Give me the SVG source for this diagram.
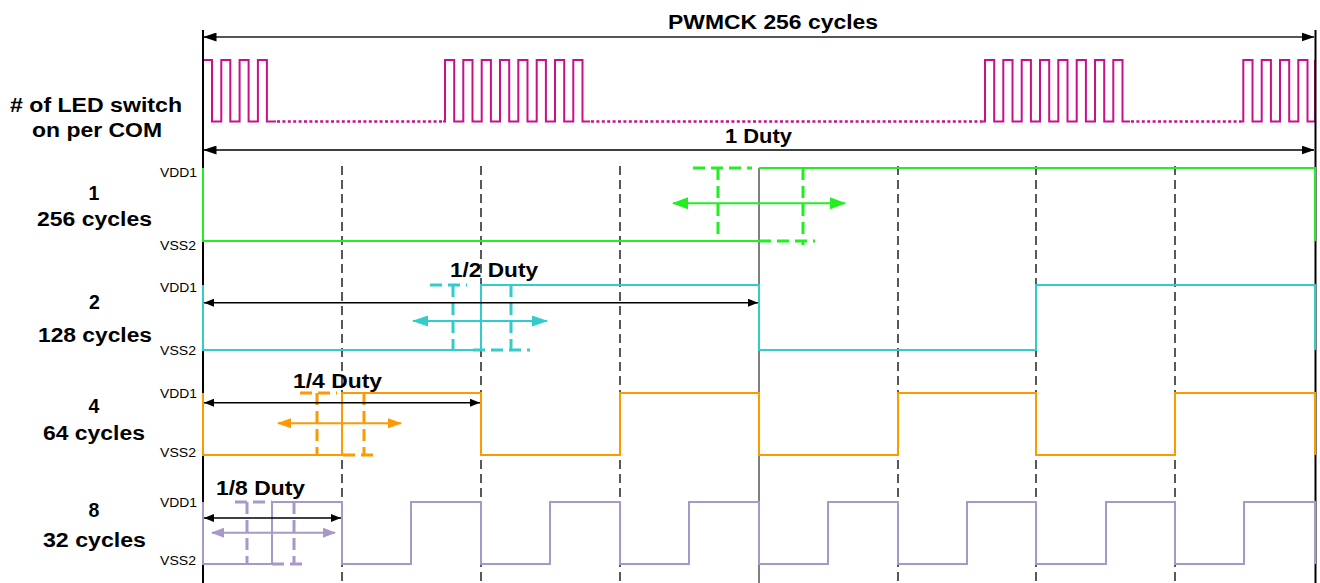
<svg xmlns="http://www.w3.org/2000/svg" width="1320" height="583" viewBox="0 0 1320 583">
<style>
.lbl{font-family:"Liberation Sans",Arial,sans-serif;font-weight:bold;font-size:19.5px;fill:#000}
.lv{font-family:"Liberation Sans",Arial,sans-serif;font-size:13px;fill:#000}
.axis{stroke:#000;stroke-width:2;fill:none}
.grid{stroke:#000;stroke-width:1.3;stroke-dasharray:9,5;fill:none}
.sig{fill:none;stroke-width:2}
.pink{stroke:#C8108C}
.green{stroke:#22EE22}
.cyan{stroke:#33CCCC}
.orange{stroke:#FF9900}
.purple{stroke:#A898C8}
.mk{fill:none;stroke-width:3;stroke-dasharray:12,6}
.dim{stroke:#000;stroke-width:1.5;fill:none}
</style>
<defs>
<marker id="ahBig" markerUnits="userSpaceOnUse" markerWidth="13" markerHeight="9" refX="12.5" refY="4.5" orient="auto-start-reverse"><path d="M0,0 L13,4.5 L0,9 Z" fill="#000"/></marker>
<marker id="ahSm" markerUnits="userSpaceOnUse" markerWidth="10" markerHeight="8" refX="10" refY="4" orient="auto-start-reverse"><path d="M0,0 L10,4 L0,8 Z" fill="#000"/></marker>
<marker id="ahG" markerUnits="userSpaceOnUse" markerWidth="16" markerHeight="12" refX="15" refY="6" orient="auto-start-reverse"><path d="M0,0 L16,6 L0,12 Z" fill="#22EE22"/></marker>
<marker id="ahC" markerUnits="userSpaceOnUse" markerWidth="16" markerHeight="11" refX="15" refY="5.5" orient="auto-start-reverse"><path d="M0,0 L16,5.5 L0,11 Z" fill="#33CCCC"/></marker>
<marker id="ahO" markerUnits="userSpaceOnUse" markerWidth="14" markerHeight="10" refX="13" refY="5" orient="auto-start-reverse"><path d="M0,0 L14,5 L0,10 Z" fill="#FF9900"/></marker>
<marker id="ahP" markerUnits="userSpaceOnUse" markerWidth="13" markerHeight="10" refX="12" refY="5" orient="auto-start-reverse"><path d="M0,0 L13,5 L0,10 Z" fill="#A898C8"/></marker>
</defs>

<g id="labels">
<text class="lbl" x="10" y="112" textLength="172" lengthAdjust="spacingAndGlyphs"># of LED switch</text>
<text class="lbl" x="32" y="137" textLength="130" lengthAdjust="spacingAndGlyphs">on per COM</text>
<text class="lbl" x="94" y="200" text-anchor="middle">1</text>
<text class="lbl" x="37" y="226" textLength="115" lengthAdjust="spacingAndGlyphs">256 cycles</text>
<text class="lbl" x="94.5" y="309" text-anchor="middle">2</text>
<text class="lbl" x="38" y="342" textLength="114" lengthAdjust="spacingAndGlyphs">128 cycles</text>
<text class="lbl" x="94" y="413" text-anchor="middle">4</text>
<text class="lbl" x="43" y="440" textLength="102" lengthAdjust="spacingAndGlyphs">64 cycles</text>
<text class="lbl" x="94" y="517" text-anchor="middle">8</text>
<text class="lbl" x="43" y="547" textLength="103" lengthAdjust="spacingAndGlyphs">32 cycles</text>
<text class="lv" x="160" y="177" textLength="37" lengthAdjust="spacingAndGlyphs">VDD1</text>
<text class="lv" x="160" y="250" textLength="36" lengthAdjust="spacingAndGlyphs">VSS2</text>
<text class="lv" x="160" y="292" textLength="37" lengthAdjust="spacingAndGlyphs">VDD1</text>
<text class="lv" x="160" y="355" textLength="36" lengthAdjust="spacingAndGlyphs">VSS2</text>
<text class="lv" x="160" y="398" textLength="37" lengthAdjust="spacingAndGlyphs">VDD1</text>
<text class="lv" x="160" y="457" textLength="36" lengthAdjust="spacingAndGlyphs">VSS2</text>
<text class="lv" x="160" y="507" textLength="37" lengthAdjust="spacingAndGlyphs">VDD1</text>
<text class="lv" x="160" y="565" textLength="36" lengthAdjust="spacingAndGlyphs">VSS2</text>
</g>

<g id="grid">
<path class="grid" d="M342,166 V583 M481,166 V583 M620,166 V583 M898,166 V583 M1036,166 V583 M1175,166 V583"/>
<path d="M759,168 V583" stroke="#555" stroke-width="1.5" fill="none"/>
</g>

<g id="pwm">
<path class="sig pink" d="M203,121.5 V60 H212 V121.5 H221.3 V60 H230.3 V121.5 H239.6 V60 H248.6 V121.5 H257.9 V60 H266.9 V121.5 H276"/>
<path class="sig pink" d="M443,121.5 H445 V60 H454.2 V121.5 H463.3 V60 H472.5 V121.5 H481.7 V60 H490.9 V121.5 H500 V60 H509.2 V121.5 H518.3 V60 H527.5 V121.5 H536.7 V60 H545.9 V121.5 H555 V60 H564.2 V121.5 H573.3 V60 H582.5 V121.5 H590"/>
<path class="sig pink" d="M983,121.5 H985 V60 H994.2 V121.5 H1003.3 V60 H1012.5 V121.5 H1021.7 V60 H1030.9 V121.5 H1040 V60 H1049.2 V121.5 H1058.3 V60 H1067.5 V121.5 H1076.7 V60 H1085.9 V121.5 H1095 V60 H1104.2 V121.5 H1113.3 V60 H1122.5 V121.5 H1130"/>
<path class="sig pink" d="M1241,121.5 H1243.3 V60 H1252.5 V121.5 H1261.7 V60 H1270.9 V121.5 H1280 V60 H1289.2 V121.5 H1298.3 V60 H1307.5 V121.5 H1315 V60"/>
<path fill="none" stroke="#C8108C" stroke-width="2.5" stroke-dasharray="3,2.4" d="M277,121.5 H443 M591,121.5 H983 M1131,121.5 H1241"/>
</g>

<g id="axes">
<path class="axis" d="M203,30 V583 M1315.5,30 V583"/>
</g>

<g id="sig1">
<path class="sig green" stroke-width="2.2" d="M203,168 V241 H759 M759,168 H1315 V241"/>
<path class="mk green" d="M693,168 H752 M718,168 V241 M803,168 V245 M759,241 H815"/>
<path class="sig green" d="M673,203.3 H845" marker-start="url(#ahG)" marker-end="url(#ahG)"/>
</g>

<g id="sig2">
<path class="sig cyan" d="M203,285 V350 H481 V285 H759 V350 H1036 V285 H1315 V350"/>
<path class="mk cyan" d="M430,285 H467 M453,285 V350 M511,285 V350 M473,350 H530"/>
<path class="sig cyan" d="M413,321 H547" marker-start="url(#ahC)" marker-end="url(#ahC)"/>
</g>

<g id="sig4">
<path class="sig orange" d="M203,393 V455 H342 V393 H481 V455 H620 V393 H759 V455 H898 V393 H1036 V455 H1175 V393 H1315 V455"/>
<path class="mk orange" d="M300,393 H337 M317,393 V455 M364,393 V455 M343,455 H375"/>
<path class="sig orange" d="M278,423.3 H401" marker-start="url(#ahO)" marker-end="url(#ahO)"/>
</g>

<g id="sig8">
<path class="sig purple" d="M203,502 V564 H272 V502 H342 V564 H411 V502 H481 V564 H550 V502 H620 V564 H689 V502 H759 V564 H828 V502 H898 V564 H967 V502 H1036 V564 H1106 V502 H1175 V564 H1244 V502 H1315 V564"/>
<path class="mk purple" d="M235,502 H272 M247,502 V564 M294,502 V564 M272,564 H307"/>
<path class="sig purple" d="M212,532.7 H335" marker-start="url(#ahP)" marker-end="url(#ahP)"/>
</g>

<g id="connectors">
<path d="M204,37 H1314" stroke="#555" stroke-width="2" fill="none" marker-start="url(#ahBig)" marker-end="url(#ahBig)"/>
<path class="dim" d="M204,150 H1314" marker-start="url(#ahBig)" marker-end="url(#ahBig)"/>
<path class="dim" d="M204,302.7 H758" marker-start="url(#ahSm)" marker-end="url(#ahSm)"/>
<path class="dim" d="M204,402.7 H480" marker-start="url(#ahSm)" marker-end="url(#ahSm)"/>
<path class="dim" d="M204,518 H341" marker-start="url(#ahSm)" marker-end="url(#ahSm)"/>
</g>

<g id="titles">
<text class="lbl" x="668" y="29" textLength="210" lengthAdjust="spacingAndGlyphs">PWMCK 256 cycles</text>
<text class="lbl" x="725" y="143" textLength="67" lengthAdjust="spacingAndGlyphs">1 Duty</text>
<text class="lbl" x="450" y="277" textLength="88" lengthAdjust="spacingAndGlyphs">1/2 Duty</text>
<text class="lbl" x="293" y="388" textLength="89" lengthAdjust="spacingAndGlyphs">1/4 Duty</text>
<text class="lbl" x="216" y="495" textLength="89" lengthAdjust="spacingAndGlyphs">1/8 Duty</text>
</g>
</svg>
